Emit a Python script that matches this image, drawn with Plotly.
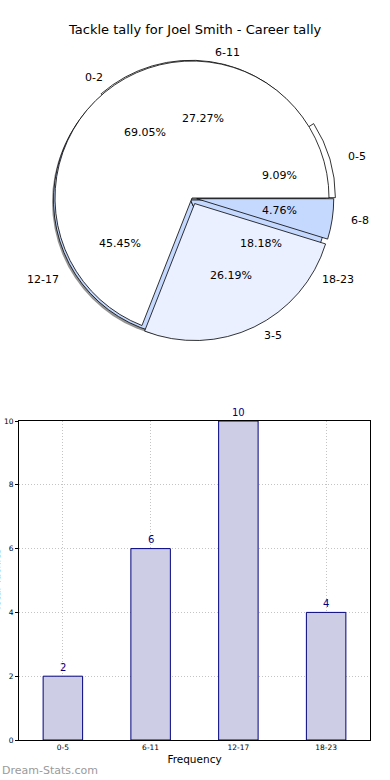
import math
import plotly.graph_objects as go

# ---------------- data ----------------
title_text = "Tackle tally for Joel Smith - Career tally"
outer_labels = ["0-5", "6-11", "12-17", "18-23"]
outer_values = [2, 6, 10, 4]
inner_labels = ["0-2", "3-5", "6-8"]
inner_values = [29, 11, 2]
bar_categories = ["0-5", "6-11", "12-17", "18-23"]
bar_values = [2, 6, 10, 4]
y_ticks = [0, 2, 4, 6, 8, 10]
x_title = "Frequency"
y_title = "Total Tackles"
watermark = "Dream-Stats.com"

# ---------------- styling / layout ----------------
W, H = 390, 780
CX, CY, R = 192, 198, 137
RX, RY = 140, 133  # text placement radii (reference pie is slightly elliptical)
FONT = "DejaVu Sans"
outer_pull = [0.06, 0.02, 0, 0]
outer_colors = ["#ffffff", "#ffffff", "#c5d9ff", "#c5d9ff"]
outer_shift = (-1.5, 2)
inner_pull = [0, 0.045, 0.035]
inner_colors = ["#ffffff", "#eaf0ff", "#c5d9ff"]


def px(x):
    return x / W


def py(y):
    return 1 - y / H


def pie_domain(maxpull, dx=0, dy=0):
    half = R * (1 + maxpull)
    return dict(x=[px(CX + dx - half), px(CX + dx + half)],
                y=[py(CY + dy + half), py(CY + dy - half)])


def ccw_rotation(values):
    # plotly places the first slice clockwise of `rotation` when counterclockwise;
    # choose rotation so the first slice starts at 3 o'clock going counterclockwise
    first = 360.0 * values[0] / sum(values)
    return 90.0 - first


fig = go.Figure()

# shadow
fig.add_trace(go.Pie(values=[1], labels=["shadow"], sort=False,
                     marker=dict(colors=["rgba(60,60,60,0.55)"], line=dict(width=0)),
                     textinfo="none", hoverinfo="skip", showlegend=False,
                     domain=pie_domain(0, -3, 4)))

for labels, values, pulls, colors, shift in [
    (outer_labels, outer_values, outer_pull, outer_colors, outer_shift),
    (inner_labels, inner_values, inner_pull, inner_colors, (0, 0)),
]:
    fig.add_trace(go.Pie(values=values, labels=labels, sort=False,
                         direction="counterclockwise", rotation=ccw_rotation(values),
                         pull=pulls,
                         marker=dict(colors=colors, line=dict(color="#000000", width=0.8)),
                         textinfo="none", hoverinfo="skip", showlegend=False,
                         domain=pie_domain(max(pulls), *shift)))

annotations = []


def pie_annots(labels, values, pulls, shift=(0, 0)):
    total = sum(values)
    cum = 0.0
    cx, cy = CX + shift[0], CY + shift[1]
    for lab, v, p in zip(labels, values, pulls):
        frac = v / total
        mid = 2 * math.pi * (cum + frac / 2)
        dx, dy = math.cos(mid), math.sin(mid)
        k = 0.6 + p
        annotations.append(dict(x=px(cx + k * RX * dx), y=py(cy - k * RY * dy), xref="paper", yref="paper",
                                text=f"{100 * frac:.2f}%", showarrow=False,
                                font=dict(family=FONT, size=11, color="#000000"),
                                xanchor="center", yanchor="middle"))
        k = 1.1 + p
        annotations.append(dict(x=px(cx + k * RX * dx), y=py(cy - k * RY * dy), xref="paper", yref="paper",
                                text=lab, showarrow=False,
                                font=dict(family=FONT, size=11, color="#000000"),
                                xanchor="left" if dx >= 0 else "right", yanchor="middle"))
        cum += frac


pie_annots(outer_labels, outer_values, outer_pull, outer_shift)
pie_annots(inner_labels, inner_values, inner_pull)

# bar chart
fig.add_trace(go.Bar(x=bar_categories, y=bar_values, width=0.45,
                     marker=dict(color="#cdcde6", line=dict(color="#000080", width=1)),
                     hoverinfo="skip", showlegend=False))

for c, v in zip(bar_categories, bar_values):
    annotations.append(dict(x=c, y=v, xref="x", yref="y", text=str(v), showarrow=False,
                            yshift=9, font=dict(family=FONT, size=10, color="#000080"),
                            xanchor="center", yanchor="middle"))

annotations.append(dict(x=px(-4), y=py(580), xref="paper", yref="paper", text=y_title,
                        textangle=-90, showarrow=False,
                        font=dict(family=FONT, size=10, color="#000000"),
                        xanchor="center", yanchor="middle"))
annotations.append(dict(x=0, y=py(770), xref="paper", yref="paper", text=watermark,
                        showarrow=False, font=dict(family=FONT, size=11, color="#9a9a9a"),
                        xanchor="left", yanchor="middle"))
annotations.append(dict(x=px(194.5), y=py(30), xref="paper", yref="paper", text=title_text,
                        showarrow=False, font=dict(family=FONT, size=13, color="#000000"),
                        xanchor="center", yanchor="middle"))

grid = dict(showgrid=True, gridcolor="#c4c4c4", griddash="1px,2px", gridwidth=1)

fig.update_layout(
    template="none",
    width=W, height=H, autosize=False,
    margin=dict(l=0, r=0, t=0, b=0, pad=0),
    paper_bgcolor="white", plot_bgcolor="white",
    font=dict(family=FONT, color="#000000"),
    annotations=annotations,
    xaxis=dict(domain=[px(19), px(370)], range=[-0.5, 3.5], type="category",
               automargin=False,
               showline=True, mirror=True, linecolor="#000000", linewidth=1,
               ticks="", tickfont=dict(family=FONT, size=7.5, color="#000000"),
               title=dict(text=x_title, font=dict(family=FONT, size=10.5, color="#000000"), standoff=4),
               zeroline=False, fixedrange=True, **grid),
    yaxis=dict(domain=[py(740), py(421)], range=[0, 10], tickvals=y_ticks,
               automargin=False,
               showline=True, mirror=True, linecolor="#000000", linewidth=1,
               ticks="outside", ticklen=3, tickcolor="#000000",
               tickfont=dict(family=FONT, size=7.5, color="#000000"),
               zeroline=False, fixedrange=True, **grid),
)

fig.write_html("out.html",
               config=dict(displayModeBar=False, responsive=False),
               post_script="document.body.style.margin='0';document.body.style.padding='0';"
                           "document.documentElement.style.overflow='hidden';")
